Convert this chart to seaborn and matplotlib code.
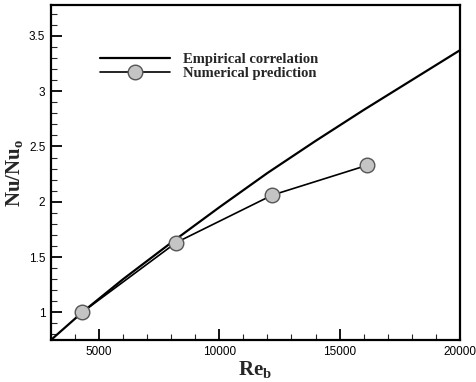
import matplotlib
matplotlib.use("Agg")
import matplotlib.pyplot as plt
import seaborn as sns
import pandas as pd
from matplotlib.ticker import MultipleLocator

# Data
emp_re = [3000, 4300, 6000, 8000, 10000, 12000, 14000, 16000, 18000, 20000]
emp_nu = [0.75, 1.00, 1.30, 1.63, 1.95, 2.26, 2.55, 2.83, 3.10, 3.37]
num_re = [4300, 8200, 12200, 16150]
num_nu = [1.00, 1.63, 2.06, 2.33]

x_ticks = [5000, 10000, 15000, 20000]
y_ticks = [1, 1.5, 2, 2.5, 3, 3.5]

sns.set_theme(style="white")
plt.rcParams["font.family"] = ["Liberation Sans", "DejaVu Sans"]
plt.rcParams["mathtext.fontset"] = "custom"
plt.rcParams["mathtext.rm"] = "Liberation Serif:bold"
plt.rcParams["mathtext.bf"] = "Liberation Serif:bold"
plt.rcParams["mathtext.it"] = "Liberation Serif:bold"

fig = plt.figure(figsize=(4.76, 3.82), dpi=100)
ax = fig.add_axes([0.107, 0.110, 0.859, 0.877])

emp = pd.DataFrame({"Re": emp_re, "Nu": emp_nu})
num = pd.DataFrame({"Re": num_re, "Nu": num_nu})

sns.lineplot(data=emp, x="Re", y="Nu", ax=ax, color="black", lw=1.6,
             label="Empirical correlation")
sns.lineplot(data=num, x="Re", y="Nu", ax=ax, color="black", lw=1.2,
             marker="o", markersize=10.5, markerfacecolor="#c4c4c4",
             markeredgecolor="#555555", markeredgewidth=1.0,
             label="Numerical prediction")

ax.set_xlim(3000, 20000)
ax.set_ylim(0.75, 3.78)
ax.set_xticks(x_ticks)
ax.set_xticklabels([str(v) for v in x_ticks])
ax.set_yticks(y_ticks)
ax.set_yticklabels(["1", "1.5", "2", "2.5", "3", "3.5"])
ax.xaxis.set_minor_locator(MultipleLocator(1000))
ax.yaxis.set_minor_locator(MultipleLocator(0.1))
ax.tick_params(axis="both", which="major", direction="in", length=8, width=1.3,
               labelsize=8.5, colors="black", bottom=True, left=True,
               top=False, right=False, pad=4)
ax.tick_params(axis="both", which="minor", direction="in", length=4, width=0.8,
               bottom=True, left=True, top=False, right=False)

for s in ax.spines.values():
    s.set_color("black")
    s.set_linewidth(1.6)

ax.set_xlabel(r"Re$_\mathrm{b}$", fontsize=15, family="Liberation Serif",
              fontweight="bold", labelpad=1)
ax.set_ylabel(r"Nu/Nu$_\mathrm{o}$", fontsize=15, family="Liberation Serif",
              fontweight="bold", labelpad=3)

leg = ax.legend(loc="upper left", bbox_to_anchor=(0.088, 0.896), frameon=False,
                handlelength=4.8, handletextpad=0.9, labelspacing=0.05,
                prop={"family": "Liberation Serif", "weight": "bold", "size": 10.5})

fig.savefig("out.png", dpi=100)
